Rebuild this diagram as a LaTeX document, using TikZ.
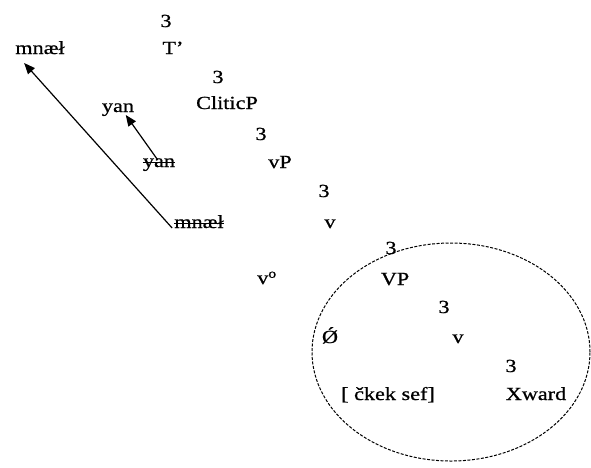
\documentclass[tikz,border=0pt]{standalone}
\usepackage{fontspec}
\setmainfont{Liberation Serif}[FakeStretch=1.2,FakeBold=0.8]
\usetikzlibrary{arrows.meta}
\begin{document}
\begin{tikzpicture}[x=1pt,y=-1pt,
  lab/.style={inner sep=0pt,anchor=base,font=\fontsize{18.5}{20}\selectfont},
  arr/.style={line width=1.2pt,-{Triangle[length=11pt,width=9pt]}},
  strike/.style={line width=1pt}]
\useasboundingbox (0,0) rectangle (591,467);
% tree
\node[lab] (t3a) at (166,27) {3};
\node[lab] (tbar) at (173,54) {T’};
\node[lab] (m1) at (40,54) {mnæł};
\node[lab] (t3b) at (218,83) {3};
\node[lab] (y1) at (118,112) {yan};
\node[lab] (clp) at (227,109) {CliticP};
\node[lab] (t3c) at (261,140) {3};
\node[lab] (y2) at (159,167) {yan};
\node[lab] (vp1) at (280,168) {vP};
\node[lab] (t3d) at (324,197) {3};
\node[lab] (m2) at (199,228) {mnæł};
\node[lab] (v1) at (330,228) {v};
\node[lab] (t3e) at (391,254) {3};
\node[lab] (v0) at (267,284) {v\textsuperscript{o}};
\node[lab] (vp2) at (395,285) {VP};
\node[lab] (t3f) at (444,313) {3};
\node[lab] (null) at (330,343) {Ǿ};
\node[lab] (v2) at (458,343) {v};
\node[lab] (t3g) at (511,372) {3};
\node[lab] (ck) at (388,400) {[ čkek sef]};
\node[lab] (xw) at (536,400) {Xward};
% strikes
\draw[strike] ([yshift=4.5pt]y2.base west) -- ([yshift=4.5pt]y2.base east);
\draw[strike] ([yshift=4.5pt]m2.base west) -- ([yshift=4.5pt]m2.base east);
% movement arrows
\draw[arr] ([xshift=-2pt]m2.base west) -- ([xshift=9pt,yshift=-9pt]m1.base west);
\draw[arr] ([xshift=15pt,yshift=7pt]y2.base west) -- ([xshift=24pt,yshift=-3pt]y1.base west);
% dashed ellipse
\draw[line width=1pt,dash pattern=on 3pt off 1.5pt] (451,352) ellipse [x radius=139pt, y radius=109pt];
\end{tikzpicture}
\end{document}
